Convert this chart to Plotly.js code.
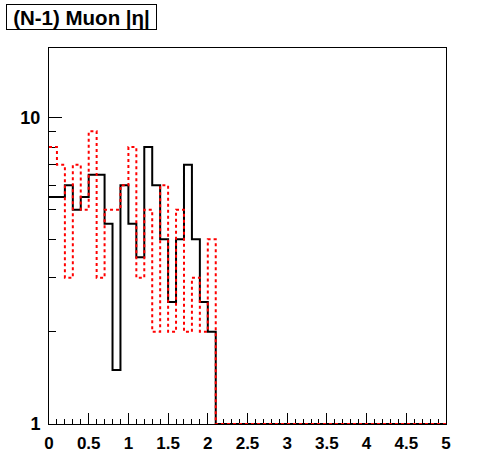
<!DOCTYPE html>
<html>
<head>
<meta charset="utf-8">
<script src="https://cdn.plot.ly/plotly-3.0.1.min.js"></script>
<style>html,body{margin:0;padding:0;background:#fff;}#chart{width:496px;height:472px;}</style>
</head>
<body>
<div id="chart"></div>
<script>
// Bin low edges of |eta| (bin width 0.1), plus the final upper edge 5.0
var binEdges = [0.0,0.1,0.2,0.3,0.4,0.5,0.6,0.7,0.8,0.9,
                1.0,1.1,1.2,1.3,1.4,1.5,1.6,1.7,1.8,1.9,
                2.0,2.1,2.2,2.3,2.4,2.5,2.6,2.7,2.8,2.9,
                3.0,3.1,3.2,3.3,3.4,3.5,3.6,3.7,3.8,3.9,
                4.0,4.1,4.2,4.3,4.4,4.5,4.6,4.7,4.8,4.9,5.0];
// Black solid histogram (bin contents)
var blackCounts = [5.5,5.5,6,5,5.5,6.5,6.5,4.5,1.5,6,
                   4.5,3.5,8,6,4,2.5,4,7,4,2.5,
                   2,0,0,0,0,0,0,0,0,0,
                   0,0,0,0,0,0,0,0,0,0,
                   0,0,0,0,0,0,0,0,0,0];
// Red dotted histogram (bin contents)
var redCounts = [8,7,3,7,5,9,3,5,5,6,
                 8,3,5,2,6,2,5,2,3,2,
                 4,0,0,0,0,0,0,0,0,0,
                 0,0,0,0,0,0,0,0,0,0,
                 0,0,0,0,0,0,0,0,0,0];
var yMajorTicks = [1, 10];
var yMajorLabels = ["1", "10"];
var yMinorTicks = [2,3,4,5,6,7,8,9];
var titleText = "(N-1) Muon |η|";

var yMin = 1;
function stepY(counts) {
  // zero-content bins are drawn on the bottom of the pad, as ROOT does on a log scale
  var ys = counts.map(function (v) { return Math.max(v, yMin); });
  ys.push(ys[ys.length - 1]);
  return ys;
}

var FONT = "Liberation Sans, Arial, Helvetica, sans-serif";

var traces = [
  {x: binEdges, y: stepY(blackCounts), type: "scatter", mode: "lines",
   line: {shape: "hv", color: "#000000", width: 2}, hoverinfo: "skip"},
  {x: binEdges, y: stepY(redCounts), type: "scatter", mode: "lines",
   line: {shape: "hv", color: "#ff0000", width: 2, dash: "dot"}, hoverinfo: "skip"}
];

var layout = {
  width: 496, height: 472,
  margin: {l: 49, r: 50, t: 48, b: 48, pad: 0},
  paper_bgcolor: "#ffffff", plot_bgcolor: "#ffffff",
  showlegend: false,
  font: {family: FONT, color: "#000000"},
  xaxis: {
    range: [0, 5], showgrid: false, zeroline: false, layer: "below traces",
    showline: true, linecolor: "#000", linewidth: 1, mirror: true,
    ticks: "inside", ticklen: 11, tickwidth: 1, tickcolor: "#000",
    tickmode: "linear", tick0: 0, dtick: 0.5,
    tickfont: {family: FONT, size: 17, color: "#000", weight: "bold"},
    ticklabelstandoff: 4,
    minor: {tickmode: "linear", tick0: 0, dtick: 0.1, ticks: "inside", ticklen: 5, tickwidth: 1, tickcolor: "#000", showgrid: false}
  },
  yaxis: {
    type: "log", range: [0, 1.226], showgrid: false, zeroline: false, layer: "below traces",
    showline: true, linecolor: "#000", linewidth: 1, mirror: true,
    ticks: "inside", ticklen: 13, tickwidth: 1, tickcolor: "#000",
    tickmode: "array", tickvals: yMajorTicks, ticktext: yMajorLabels,
    tickfont: {family: FONT, size: 18, color: "#000", weight: "bold"},
    ticklabelstandoff: 4,
    minor: {tickmode: "array", tickvals: yMinorTicks, ticks: "inside", ticklen: 7, tickwidth: 1, tickcolor: "#000", showgrid: false}
  },
  annotations: [{
    text: titleText, showarrow: false,
    xref: "paper", yref: "paper",
    x: (6 - 49) / 397, y: (424 - 4) / 376, xanchor: "left", yanchor: "top",
    width: 149, height: 24, align: "center", valign: "middle",
    bordercolor: "#000", borderwidth: 1, borderpad: 0, bgcolor: "#ffffff",
    font: {family: FONT, size: 20.5, color: "#000", weight: "bold"}
  }]
};

Plotly.newPlot("chart", traces, layout, {staticPlot: true, displayModeBar: false});
</script>
</body>
</html>
